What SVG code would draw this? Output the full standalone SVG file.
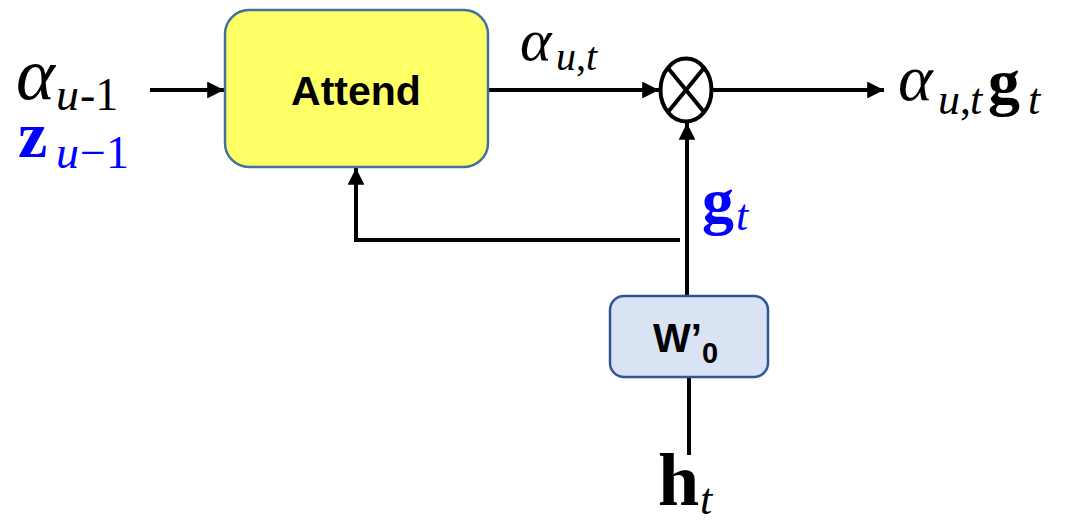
<svg xmlns="http://www.w3.org/2000/svg" width="1084" height="522" viewBox="0 0 1084 522">
<defs>
<marker id="ah" viewBox="0 0 10 10" refX="10" refY="5" markerWidth="4.2" markerHeight="4.2" orient="auto" markerUnits="strokeWidth">
<path d="M0,0 L10,5 L0,10 z" fill="#000"/>
</marker>
<style>
.ln{stroke:#000;stroke-width:4;fill:none}
.arr{marker-end:url(#ah)}
.mi{font-family:"Liberation Serif","DejaVu Serif",serif;font-style:italic}
.mb{font-family:"Liberation Serif","DejaVu Serif",serif;font-weight:bold}
.mr{font-family:"Liberation Serif","DejaVu Serif",serif}
.blue{fill:#0000FF}
.lbl{font-family:"Liberation Sans","Noto Sans",sans-serif;font-weight:bold;fill:#000}
</style>
</defs>
<rect width="1084" height="522" fill="#fff"/>
<g id="connectors">
<line class="ln arr" x1="150" y1="90" x2="224" y2="90"/>
<line class="ln arr" x1="488" y1="90" x2="659" y2="90"/>
<line class="ln arr" x1="712" y1="90" x2="884" y2="90"/>
<line class="ln arr" x1="687" y1="296" x2="687" y2="123"/>
<polyline class="ln arr" points="680,240 356,240 356,168"/>
<line class="ln" x1="689" y1="377" x2="689" y2="455"/>
</g>
<g id="attend">
<rect x="225" y="10" width="263" height="157" rx="24" fill="#FFFF66" stroke="#41719C" stroke-width="2.5"/>
<text class="lbl" x="356" y="105" font-size="41" text-anchor="middle">Attend</text>
</g>
<g id="mult">
<ellipse cx="686" cy="90" rx="25.5" ry="31.5" fill="#fff" stroke="#000" stroke-width="4"/>
<line class="ln" x1="668" y1="68" x2="704" y2="112"/>
<line class="ln" x1="704" y1="68" x2="668" y2="112"/>
</g>
<g id="w0">
<rect x="610" y="296" width="158" height="81" rx="14" fill="#DAE3F3" stroke="#2F5597" stroke-width="2.5"/>
<text class="lbl" x="653" y="352" font-size="40">W’<tspan font-size="29" dy="11">0</tspan></text>
</g>
<g id="labels">
<text class="mi" x="16" y="99" font-size="74">α</text>
<text class="mi" x="56" y="110" font-size="46">u</text>
<text class="mr" x="80" y="110" font-size="46">-1</text>
<text class="mb blue" x="18" y="157" font-size="66">z</text>
<text class="mi blue" x="56" y="168" font-size="46">u</text>
<text class="mr blue" x="80" y="168" font-size="46">−1</text>
<text class="mi" x="520" y="60" font-size="60">α</text>
<text class="mi" x="556" y="70" font-size="40">u</text>
<text class="mr" x="576" y="70" font-size="40">,</text>
<text class="mi" x="586" y="70" font-size="40">t</text>
<text class="mi" x="898" y="100" font-size="66">α</text>
<text class="mi" x="938" y="114" font-size="44">u</text>
<text class="mr" x="960" y="114" font-size="44">,</text>
<text class="mi" x="970" y="114" font-size="44">t</text>
<text class="mb" x="988" y="103" font-size="64">g</text>
<text class="mi" x="1028" y="114" font-size="44">t</text>
<text class="mb blue" x="702" y="222" font-size="64">g</text>
<text class="mi blue" x="736" y="230" font-size="44">t</text>
<text class="mb" x="658" y="505" font-size="74">h</text>
<text class="mi" x="700" y="514" font-size="44">t</text>
</g>
</svg>
